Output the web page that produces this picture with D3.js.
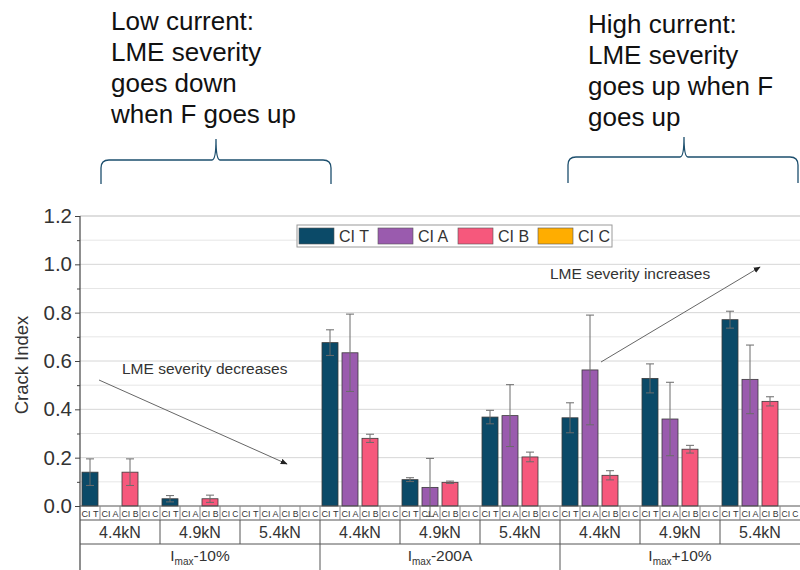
<!DOCTYPE html>
<html>
<head>
<meta charset="utf-8">
<script src="https://cdn.jsdelivr.net/npm/d3@7"></script>
<style>
  html, body { margin: 0; padding: 0; background: #fff; }
  svg { display: block; font-family: "Liberation Sans", Arial, sans-serif; }
</style>
</head>
<body>
<svg id="chart" width="800" height="570"></svg>
<script>
// ---------------- data ----------------
const currents = ["-10%", "-200A", "+10%"];
const forces = ["4.4kN", "4.9kN", "5.4kN"];
const seriesNames = ["CI T", "CI A", "CI B", "CI C"];
const seriesColors = ["#0b4a68", "#9a5bae", "#f6587c", "#ffad00"];
const yTicks = [0.0, 0.2, 0.4, 0.6, 0.8, 1.0, 1.2];

// values per group: (Imax-10%: 4.4,4.9,5.4), (Imax-200A: ...), (Imax+10%: ...)
const ciT    = [0.140, 0.030, 0, 0.676, 0.109, 0.368, 0.365, 0.528, 0.771];
const ciTErr = [0.055, 0.013, 0, 0.053, 0.008, 0.028, 0.062, 0.060, 0.035];
const ciA    = [0, 0, 0, 0.634, 0.077, 0.374, 0.563, 0.360, 0.524];
const ciAErr = [0, 0, 0, 0.160, 0.120, 0.128, 0.227, 0.152, 0.142];
const ciB    = [0.140, 0.030, 0, 0.280, 0.098, 0.203, 0.127, 0.235, 0.433];
const ciBErr = [0.055, 0.015, 0, 0.017, 0.005, 0.020, 0.019, 0.016, 0.019];
const ciC    = [0, 0, 0, 0, 0, 0, 0, 0, 0];
const ciCErr = [0, 0, 0, 0, 0, 0, 0, 0, 0];

const seriesValues = [ciT, ciA, ciB, ciC];
const seriesErrors = [ciTErr, ciAErr, ciBErr, ciCErr];

// ---------------- layout ----------------
const svg = d3.select("#chart");
const X0 = 80, X1 = 800, Y0 = 506, Y1 = 216;

const groups = [];
currents.forEach((c, ci) => forces.forEach((f, fi) => groups.push({c, f, ci, fi, idx: ci * 3 + fi})));

const x = d3.scaleBand().domain(d3.range(groups.length)).range([X0, X1]).padding(0);
const xs = d3.scaleBand().domain(seriesNames).range([0, x.bandwidth()]).padding(0);
const xc = d3.scaleBand().domain(currents).range([X0, X1]).padding(0);
const y = d3.scaleLinear().domain([0, 1.2]).range([Y0, Y1]);

const grid = svg.append("g");
// gridlines every 0.1
d3.range(1, 12).forEach(i => {
  grid.append("line")
    .attr("x1", X0).attr("x2", 800)
    .attr("y1", y(i / 10)).attr("y2", y(i / 10))
    .attr("stroke", i % 2 === 0 ? "#d6d6d6" : "#e6e6e6").attr("stroke-width", 1);
});
// top frame
grid.append("line").attr("x1", X0).attr("x2", 800).attr("y1", y(1.2)).attr("y2", y(1.2))
  .attr("stroke", "#bdbdbd").attr("stroke-width", 1);

// bars
const bars = [];
groups.forEach(g => seriesNames.forEach((s, si) => {
  bars.push({g: g.idx, s, si, v: seriesValues[si][g.idx], e: seriesErrors[si][g.idx]});
}));
const bw = xs.bandwidth() * 0.8;
const barG = svg.append("g");
barG.selectAll("rect").data(bars.filter(d => d.v > 0)).join("rect")
  .attr("x", d => x(d.g) + xs(d.s) + (xs.bandwidth() - bw) / 2)
  .attr("y", d => y(d.v))
  .attr("width", bw)
  .attr("height", d => y(0) - y(d.v))
  .attr("fill", d => seriesColors[d.si])
  .attr("stroke", "#3a3a3a").attr("stroke-width", 0.8);

// error bars
const errG = svg.append("g").attr("stroke", "#6b6b6b").attr("stroke-width", 1);
bars.filter(d => d.v > 0 && d.e > 0).forEach(d => {
  const cx = x(d.g) + xs(d.s) + xs.bandwidth() / 2;
  errG.append("line").attr("x1", cx).attr("x2", cx).attr("y1", y(d.v + d.e)).attr("y2", y(d.v - d.e));
  errG.append("line").attr("x1", cx - 4).attr("x2", cx + 4).attr("y1", y(d.v + d.e)).attr("y2", y(d.v + d.e));
  errG.append("line").attr("x1", cx - 4).attr("x2", cx + 4).attr("y1", y(d.v - d.e)).attr("y2", y(d.v - d.e));
});

// y axis
const yAxis = svg.append("g").attr("transform", `translate(${X0},0)`)
  .call(d3.axisLeft(y).tickValues(yTicks).tickFormat(d3.format(".1f")).tickSize(5).tickSizeOuter(0));
yAxis.select(".domain").remove();
yAxis.selectAll(".tick line").attr("stroke", "#444");
yAxis.selectAll(".tick text").attr("font-size", 20.5).attr("fill", "#333").attr("x", -8)
  .attr("font-family", "Liberation Sans, Arial, sans-serif");
const yMinor = svg.append("g").attr("transform", `translate(${X0},0)`)
  .call(d3.axisLeft(y).tickValues([0.1, 0.3, 0.5, 0.7, 0.9, 1.1]).tickFormat("").tickSize(3).tickSizeOuter(0));
yMinor.select(".domain").remove();
yMinor.selectAll(".tick line").attr("stroke", "#444");
svg.append("line").attr("x1", X0).attr("x2", X0).attr("y1", Y1).attr("y2", 570)
  .attr("stroke", "#444").attr("stroke-width", 1.2);

svg.append("text").attr("transform", `translate(28,${(Y0 + Y1) / 2 + 4}) rotate(-90)`)
  .attr("text-anchor", "middle").attr("font-size", 18.5).attr("fill", "#333").text("Crack Index");

// ---------------- category table ----------------
const tbl = svg.append("g").attr("stroke", "#555").attr("stroke-width", 1);
const R0 = Y0, R1 = 520, R2 = 544, R3 = 570;
[R0, R1, R2].forEach(yy => tbl.append("line").attr("x1", X0).attr("x2", 800).attr("y1", yy).attr("y2", yy));
// sub-cells
const cells = [];
groups.forEach(g => seriesNames.forEach(s => cells.push({g: g.idx, s})));
cells.forEach((d, i) => {
  const xx = x(d.g) + xs(d.s);
  if (i > 0) tbl.append("line").attr("x1", xx).attr("x2", xx).attr("y1", R0).attr("y2", R1)
    .attr("stroke", "#888");
});
groups.forEach(g => {
  if (g.idx > 0) tbl.append("line").attr("x1", x(g.idx)).attr("x2", x(g.idx)).attr("y1", R1).attr("y2", R2);
});
currents.forEach((c, i) => {
  if (i > 0) tbl.append("line").attr("x1", xc(c)).attr("x2", xc(c)).attr("y1", R2).attr("y2", R3);
});

const labG = svg.append("g").attr("fill", "#333").attr("text-anchor", "middle");
cells.forEach(d => {
  labG.append("text").attr("x", x(d.g) + xs(d.s) + xs.bandwidth() / 2).attr("y", R1 - 3.5)
    .attr("font-size", 9.5).attr("textLength", 17).attr("lengthAdjust", "spacingAndGlyphs").text(d.s);
});
groups.forEach(g => {
  labG.append("text").attr("x", x(g.idx) + x.bandwidth() / 2).attr("y", R2 - 6.5)
    .attr("font-size", 16).text(g.f);
});
currents.forEach(c => {
  const t = labG.append("text").attr("x", xc(c) + xc.bandwidth() / 2).attr("y", 561).attr("font-size", 15.5);
  t.append("tspan").text("I");
  t.append("tspan").attr("font-size", 10).attr("dy", 4).text("max");
  t.append("tspan").attr("dy", -4).text(c);
});

// ---------------- legend ----------------
const lg = svg.append("g");
lg.append("rect").attr("x", 297).attr("y", 225).attr("width", 315).attr("height", 22)
  .attr("fill", "#fff").attr("stroke", "#9a9a9a").attr("stroke-width", 1);
const legX = [299, 378, 458, 538];
seriesNames.forEach((s, i) => {
  lg.append("rect").attr("x", legX[i]).attr("y", 228).attr("width", 35).attr("height", 16)
    .attr("fill", seriesColors[i]).attr("stroke", "#555").attr("stroke-width", 0.6);
  lg.append("text").attr("x", legX[i] + 40).attr("y", 242).attr("font-size", 16).attr("fill", "#333").text(s);
});

// ---------------- annotations ----------------
const defs = svg.append("defs");
defs.append("marker").attr("id", "arr").attr("viewBox", "0 0 10 10").attr("refX", 9).attr("refY", 5)
  .attr("markerWidth", 7).attr("markerHeight", 7).attr("orient", "auto-start-reverse")
  .append("path").attr("d", "M0,1 L10,5 L0,9 z").attr("fill", "#222");

svg.append("text").attr("x", 122).attr("y", 374).attr("font-size", 15.5).attr("fill", "#333")
  .text("LME severity decreases");
svg.append("line").attr("x1", 99).attr("y1", 380).attr("x2", 287).attr("y2", 464)
  .attr("stroke", "#666").attr("stroke-width", 1).attr("marker-end", "url(#arr)");

svg.append("text").attr("x", 550).attr("y", 279).attr("font-size", 15.5).attr("fill", "#333")
  .text("LME severity increases");
svg.append("line").attr("x1", 601).attr("y1", 362).attr("x2", 760).attr("y2", 267)
  .attr("stroke", "#666").attr("stroke-width", 1).attr("marker-end", "url(#arr)");

// top notes
const noteL = ["Low current:", "LME severity", "goes down", "when F goes up"];
const noteR = ["High current:", "LME severity", "goes up when F", "goes up"];
noteL.forEach((t, i) => svg.append("text").attr("x", 111).attr("y", 30 + i * 31)
  .attr("font-size", 26).attr("fill", "#111").text(t));
noteR.forEach((t, i) => svg.append("text").attr("x", 588).attr("y", 33 + i * 31)
  .attr("font-size", 26).attr("fill", "#111").text(t));

function brace(x1, x2, xm, yBar, yTop, yBot) {
  const r = 8;
  return `M${x1},${yBot} L${x1},${yBar + r} Q${x1},${yBar} ${x1 + r},${yBar} L${xm - 4},${yBar} Q${xm},${yBar} ${xm},${yTop}` +
         ` Q${xm},${yBar} ${xm + 4},${yBar} L${x2 - r},${yBar} Q${x2},${yBar} ${x2},${yBar + r} L${x2},${yBot}`;
}
svg.append("path").attr("d", brace(101, 331, 216, 160, 139, 184))
  .attr("fill", "none").attr("stroke", "#1d4f6e").attr("stroke-width", 1.3);
svg.append("path").attr("d", brace(568, 798, 684, 157, 137, 183))
  .attr("fill", "none").attr("stroke", "#1d4f6e").attr("stroke-width", 1.3);
</script>
</body>
</html>
